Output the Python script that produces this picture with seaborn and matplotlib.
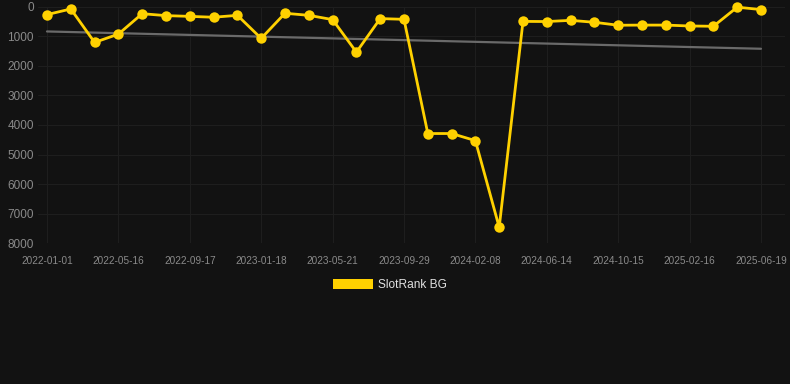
import numpy as np
import pandas as pd
import matplotlib
matplotlib.use("Agg")
import matplotlib.pyplot as plt
import seaborn as sns
from matplotlib.patches import Patch

# rank values, one point roughly every 45 days
ranks = [270, 80, 1210, 930, 240, 305, 330, 360, 295, 1075, 225, 295, 440, 1540, 405, 430,
         4290, 4290, 4530, 7460, 500, 505, 465, 530, 630, 625, 625, 655, 665, 20, 100]
tick_labels = ["2022-01-01", "2022-05-16", "2022-09-17", "2023-01-18", "2023-05-21", "2023-09-29",
               "2024-02-08", "2024-06-14", "2024-10-15", "2025-02-16", "2025-06-19"]
trend_ends = [840, 1425]
series_name = "SlotRank BG"

df = pd.DataFrame({"idx": np.arange(len(ranks)), "rank": ranks})

bg = "#121212"
yellow = "#FFD100"
sns.set_style("dark")
plt.rcParams['font.family'] = ['Liberation Sans', 'DejaVu Sans']

fig = plt.figure(figsize=(7.9, 3.84), dpi=100, facecolor=bg)
ax = fig.add_axes([38 / 790, 1 - 243.3 / 384, 747 / 790, (243.3 - 6.6) / 384])
ax.set_facecolor(bg)

ax.plot([0, len(ranks) - 1], trend_ends, color="#6a6a6a", lw=1.6, zorder=2)
sns.lineplot(data=df, x="idx", y="rank", ax=ax, color=yellow, lw=2.0, marker="o",
             markersize=7.5, markeredgewidth=0, zorder=3, clip_on=False)

ax.set_xlim(-9 / 23.8, 30 + 24 / 23.8)
ax.set_ylim(8000, 0)
ax.set_xticks(np.arange(0, len(ranks), 3))
ax.set_xticklabels(tick_labels)
ax.set_yticks(np.arange(0, 8001, 1000))
ax.tick_params(axis="x", colors="#8a8a8a", labelsize=7.2, length=0, pad=9)
ax.tick_params(axis="y", colors="#8a8a8a", labelsize=8.5, length=0, pad=3)
ax.grid(True, color="#1e1e1e", lw=0.8)
for s in ax.spines.values():
    s.set_visible(False)
ax.set_xlabel("")
ax.set_ylabel("")

fig.legend(handles=[Patch(facecolor=yellow, edgecolor="none", label=series_name)],
           loc="center", bbox_to_anchor=(390 / 790, 1 - 285 / 384), frameon=False,
           fontsize=8.6, labelcolor="#e0e0e0", handlelength=3.3, handleheight=0.95,
           handletextpad=0.45)

fig.savefig("out.png", dpi=100, facecolor=bg)
